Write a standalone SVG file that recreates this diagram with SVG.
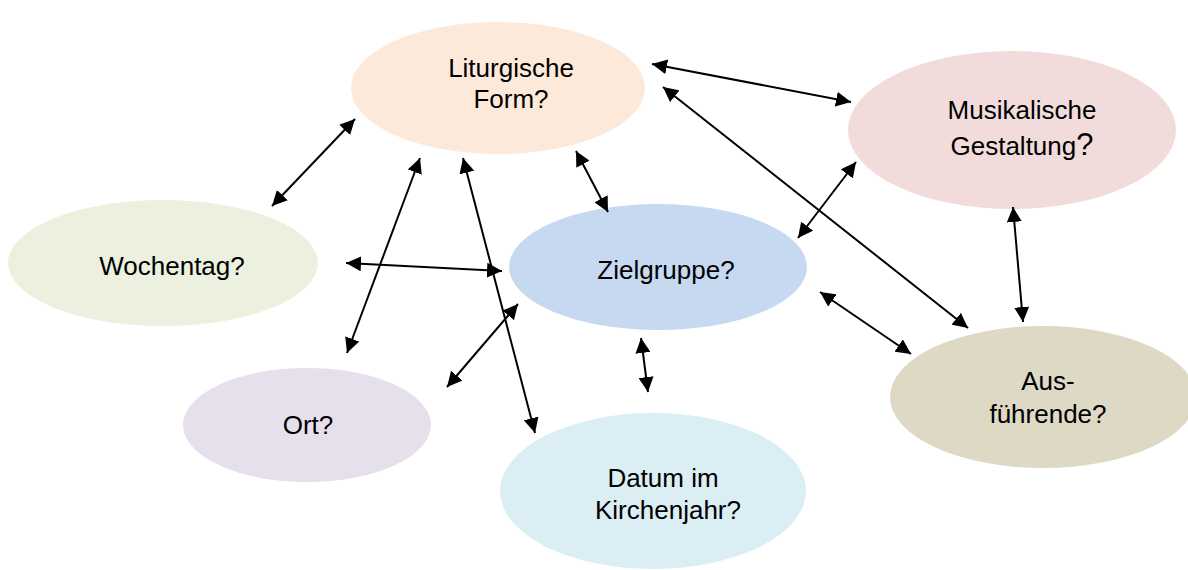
<svg xmlns="http://www.w3.org/2000/svg" width="1188" height="570" viewBox="0 0 1188 570">
<defs>
<marker id="ah" viewBox="0 0 10 10" refX="10" refY="5" markerWidth="7.5" markerHeight="7.5" markerUnits="strokeWidth" orient="auto-start-reverse">
<path d="M0,0 L10,5 L0,10 z" fill="#000"/>
</marker>
<style>
text{font-family:"Liberation Sans",Arial,sans-serif;font-size:26px;fill:#000;text-anchor:middle}
.c line{stroke:#000;stroke-width:2;marker-start:url(#ah);marker-end:url(#ah)}
</style>
</defs>
<rect width="1188" height="570" fill="#fff"/>
<g id="liturgische"><ellipse cx="498" cy="88" rx="147" ry="66" fill="#fde9d9"/><text x="511" y="77">Liturgische</text><text x="511" y="108">Form?</text></g>
<g id="musikalische"><ellipse cx="1012" cy="130" rx="164" ry="79" fill="#f2dcdb"/><text x="1022" y="119">Musikalische</text><text x="1022" y="155">Gestaltung<tspan font-size="31">?</tspan></text></g>
<g id="wochentag"><ellipse cx="163" cy="263" rx="155" ry="63" fill="#ebf1de"/><text x="172" y="275">Wochentag?</text></g>
<g id="zielgruppe"><ellipse cx="658" cy="267" rx="149" ry="63" fill="#c6d9f1"/><text x="666" y="279">Zielgruppe?</text></g>
<g id="ort"><ellipse cx="307" cy="425" rx="124" ry="57" fill="#e5e0ec"/><text x="308" y="434">Ort?</text></g>
<g id="ausfuehrende"><ellipse cx="1043" cy="397" rx="153" ry="71" fill="#ddd9c4"/><text x="1048" y="390">Aus-</text><text x="1048" y="423">führende?</text></g>
<g id="datum"><ellipse cx="653" cy="491" rx="153" ry="78" fill="#dbeef4"/><text x="663" y="487">Datum im</text><text x="668" y="519">Kirchenjahr?</text></g>
<g class="c" id="connectors">
<line x1="272" y1="206" x2="355" y2="119"/>
<line x1="652" y1="64" x2="851" y2="102"/>
<line x1="663" y1="87" x2="968" y2="328"/>
<line x1="576" y1="151" x2="608" y2="212"/>
<line x1="856" y1="162" x2="798" y2="238"/>
<line x1="1013" y1="207" x2="1023" y2="322"/>
<line x1="346" y1="263" x2="502" y2="271"/>
<line x1="420" y1="158" x2="347" y2="353"/>
<line x1="463" y1="158" x2="535" y2="433"/>
<line x1="518" y1="304" x2="447" y2="387"/>
<line x1="820" y1="292" x2="911" y2="354"/>
<line x1="641" y1="338" x2="648" y2="392"/>
</g>
</svg>
